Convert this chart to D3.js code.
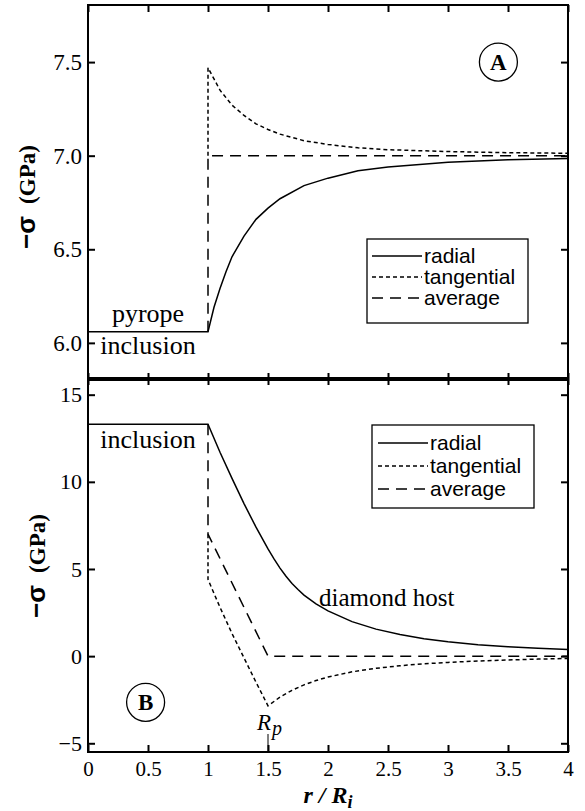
<!DOCTYPE html>
<html>
<head>
<meta charset="utf-8">
<script src="https://cdn.jsdelivr.net/npm/d3@7"></script>
<style>
  body { margin: 0; background: #fff; }
  svg { display: block; }
</style>
</head>
<body>
<div id="chart"></div>
<script>
// x axis
var xTicks = [0, 0.5, 1, 1.5, 2, 2.5, 3, 3.5, 4];

// panel A (pyrope inclusion), [r/Ri, -sigma GPa]
var topYTicks = [6.0, 6.5, 7.0, 7.5];
var topRadial = [[0, 6.06], [1, 6.06], [1.05, 6.19], [1.1, 6.29], [1.15, 6.38], [1.2, 6.46],
  [1.3, 6.57], [1.4, 6.66], [1.5, 6.72], [1.6, 6.77], [1.8, 6.84], [2, 6.88], [2.25, 6.92],
  [2.5, 6.94], [3, 6.965], [3.5, 6.978], [4, 6.985]];
var topTangential = [[1, 7.0], [1, 7.47], [1.05, 7.41], [1.1, 7.35], [1.15, 7.31], [1.2, 7.27],
  [1.3, 7.215], [1.4, 7.17], [1.5, 7.14], [1.6, 7.115], [1.8, 7.08], [2, 7.06], [2.25, 7.042],
  [2.5, 7.032], [3, 7.022], [3.5, 7.016], [4, 7.013]];
var topAverage = [[1, 6.06], [1, 7.0], [4, 7.0]];

// panel B (diamond host)
var botYTicks = [-5, 0, 5, 10, 15];
var botRadial = [[0, 13.3], [1, 13.3], [1.1, 11.7], [1.2, 10.2], [1.3, 8.75], [1.4, 7.4],
  [1.5, 6.15], [1.55, 5.58], [1.6, 5.05], [1.65, 4.58], [1.7, 4.17], [1.75, 3.82], [1.8, 3.5],
  [1.9, 3.0], [2, 2.6], [2.2, 1.98], [2.4, 1.55], [2.6, 1.24], [2.8, 1.0], [3, 0.82],
  [3.25, 0.66], [3.5, 0.54], [3.75, 0.45], [4, 0.38]];
var botTangential = [[1, 7.0], [1, 4.4], [1.05, 3.6], [1.1, 2.8], [1.2, 1.3], [1.3, -0.1],
  [1.4, -1.5], [1.5, -2.85], [1.6, -2.35], [1.7, -1.96], [1.8, -1.65], [1.9, -1.4], [2, -1.2],
  [2.2, -0.9], [2.4, -0.7], [2.6, -0.55], [2.8, -0.44], [3, -0.36], [3.25, -0.28], [3.5, -0.22],
  [3.75, -0.17], [4, -0.13]];
var botAverage = [[1, 13.3], [1, 7.0], [1.5, 0], [4, 0]];

var seriesNames = ["radial", "tangential", "average"];
var seriesDash = [null, "4,3", "11,7"];

var W = 585, H = 811;
var pLeft = 88, pRight = 568, pTop = 5, pMid = 379, pBottom = 752;

var svg = d3.select("#chart").append("svg")
  .attr("width", W)
  .attr("height", H);

var x = d3.scaleLinear().domain([0, 4]).range([pLeft, pRight]);
var yTop = d3.scaleLinear().domain([5.807, 7.805]).range([pMid, pTop]);
var yBot = d3.scaleLinear().domain([-5.5, 15.9]).range([pBottom, pMid]);

var serif = "'Liberation Serif', 'Times New Roman', serif";
var sans = "'Liberation Sans', Arial, sans-serif";

function line(y) {
  return d3.line().x(function(d) { return x(d[0]); }).y(function(d) { return y(d[1]); });
}

function drawCurves(data, y) {
  data.forEach(function(s, i) {
    svg.append("path")
      .attr("d", line(y)(s))
      .attr("fill", "none")
      .attr("stroke", "#000")
      .attr("stroke-width", 1.5)
      .attr("stroke-dasharray", seriesDash[i]);
  });
}

drawCurves([topRadial, topTangential, topAverage], yTop);
drawCurves([botRadial, botTangential, botAverage], yBot);

// axes
function styleAxis(g, fontSize) {
  g.select(".domain").remove();
  g.selectAll("line").attr("stroke", "#000").attr("stroke-width", 2);
  g.selectAll("text").attr("fill", "#000").style("font-family", serif).style("font-size", fontSize + "px");
}

svg.append("g").attr("transform", "translate(" + pLeft + ",0)")
  .call(d3.axisLeft(yTop).tickValues(topYTicks).tickFormat(d3.format(".1f")).tickSizeInner(-7).tickSizeOuter(0).tickPadding(6))
  .call(styleAxis, 23);
svg.append("g").attr("transform", "translate(" + pRight + ",0)")
  .call(d3.axisRight(yTop).tickValues(topYTicks).tickFormat("").tickSizeInner(-7).tickSizeOuter(0))
  .call(styleAxis, 22);
svg.append("g").attr("transform", "translate(" + pLeft + ",0)")
  .call(d3.axisLeft(yBot).tickValues(botYTicks).tickFormat(d3.format("d")).tickSizeInner(-7).tickSizeOuter(0).tickPadding(6))
  .call(styleAxis, 22);
svg.append("g").attr("transform", "translate(" + pRight + ",0)")
  .call(d3.axisRight(yBot).tickValues(botYTicks).tickFormat("").tickSizeInner(-7).tickSizeOuter(0))
  .call(styleAxis, 22);

svg.append("g").attr("transform", "translate(0," + pTop + ")")
  .call(d3.axisTop(x).tickValues(xTicks).tickFormat("").tickSizeInner(-7).tickSizeOuter(0))
  .call(styleAxis, 20);
svg.append("g").attr("transform", "translate(0," + pMid + ")")
  .call(d3.axisTop(x).tickValues(xTicks).tickFormat("").tickSizeInner(6).tickSizeOuter(0))
  .call(styleAxis, 20);
svg.append("g").attr("transform", "translate(0," + pMid + ")")
  .call(d3.axisBottom(x).tickValues(xTicks).tickFormat("").tickSizeInner(6).tickSizeOuter(0))
  .call(styleAxis, 20);
svg.append("g").attr("transform", "translate(0," + pBottom + ")")
  .call(d3.axisBottom(x).tickValues(xTicks).tickFormat(function(d) { return String(d); }).tickSizeInner(-7).tickSizeOuter(0).tickPadding(9))
  .call(styleAxis, 21);

// frame
svg.append("rect")
  .attr("x", pLeft).attr("y", pTop)
  .attr("width", pRight - pLeft).attr("height", pBottom - pTop)
  .attr("fill", "none").attr("stroke", "#000").attr("stroke-width", 2);
svg.append("line")
  .attr("x1", pLeft).attr("x2", pRight).attr("y1", pMid).attr("y2", pMid)
  .attr("stroke", "#000").attr("stroke-width", 4);

// y labels
function yLabel(cx, cy) {
  var t = svg.append("text")
    .attr("transform", "translate(" + cx + "," + cy + ") rotate(-90)")
    .attr("text-anchor", "middle")
    .attr("font-weight", "bold")
    .attr("fill", "#000");
  t.append("tspan").style("font-family", sans).style("font-size", "26px").text("\u2212\u03c3");
  t.append("tspan").attr("dx", 12).style("font-family", serif).style("font-size", "23px").text("(GPa)");
}
yLabel(35, 197);
yLabel(45, 566);

// x label
var xl = svg.append("text")
  .attr("x", x(2)).attr("y", 803)
  .attr("text-anchor", "middle")
  .style("font-family", serif).style("font-size", "24px")
  .attr("font-weight", "bold").attr("font-style", "italic");
xl.append("tspan").text("r / R");
xl.append("tspan").attr("dy", 5).style("font-size", "18px").text("i");

// annotations
function note(tx, ty, str, size) {
  svg.append("text")
    .attr("x", tx).attr("y", ty)
    .attr("text-anchor", "middle")
    .style("font-family", serif).style("font-size", size + "px")
    .attr("fill", "#000")
    .text(str);
}
note(x(0.5), 322, "pyrope", 26);
note(x(0.5), 354, "inclusion", 26);
note(x(0.5), 448, "inclusion", 26);
note(x(2.49), 606, "diamond host", 25);

function circleLabel(cx, cy, letter) {
  svg.append("circle").attr("cx", cx).attr("cy", cy).attr("r", 19)
    .attr("fill", "none").attr("stroke", "#000").attr("stroke-width", 1.3);
  svg.append("text").attr("x", cx).attr("y", cy + 8)
    .attr("text-anchor", "middle")
    .style("font-family", serif).style("font-size", "23px").attr("font-weight", "bold")
    .text(letter);
}
circleLabel(x(3.42), yTop(7.5), "A");
circleLabel(x(0.48), yBot(-2.65), "B");

// R_p marker
svg.append("line")
  .attr("x1", x(1.5)).attr("x2", x(1.5))
  .attr("y1", pBottom).attr("y2", pBottom - 18)
  .attr("stroke", "#000").attr("stroke-width", 1);
var rp = svg.append("text")
  .attr("x", x(1.5) - 11).attr("y", 730)
  .style("font-family", serif).style("font-size", "23px").attr("font-style", "italic");
rp.append("tspan").text("R");
rp.append("tspan").attr("dy", 5).attr("dx", 1).style("font-size", "20px").text("p");

// legends
function legend(bx, by, bw, bh, rowY, lineX0, lineX1, textX) {
  svg.append("rect").attr("x", bx).attr("y", by).attr("width", bw).attr("height", bh)
    .attr("fill", "#fff").attr("stroke", "#000").attr("stroke-width", 1.3);
  seriesNames.forEach(function(name, i) {
    var yy = rowY[i];
    svg.append("line")
      .attr("x1", lineX0).attr("x2", lineX1).attr("y1", yy).attr("y2", yy)
      .attr("stroke", "#000").attr("stroke-width", 1.5)
      .attr("stroke-dasharray", seriesDash[i]);
    svg.append("text")
      .attr("x", textX).attr("y", yy + 7)
      .style("font-family", sans).style("font-size", "21px")
      .text(name);
  });
}
legend(367, 239, 161, 84, [256, 277, 298], 372, 422, 424);
legend(372, 425, 162, 83, [443, 466, 489], 378, 428, 430);
</script>
</body>
</html>
